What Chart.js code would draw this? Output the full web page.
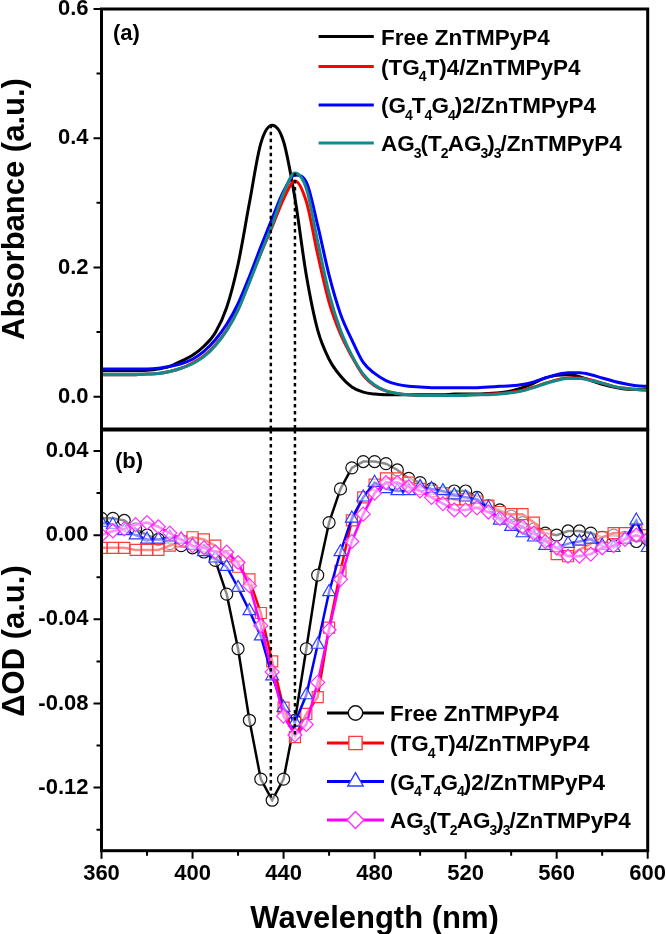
<!DOCTYPE html>
<html>
<head>
<meta charset="utf-8">
<script src="https://cdn.jsdelivr.net/npm/chart.js@4.4.1/dist/chart.umd.min.js"></script>
<style>
  html, body { margin: 0; padding: 0; background: #fff; }
  #wrap { position: relative; width: 666px; height: 934px; }
  canvas { position: absolute; left: 0; }
  #topChart { top: 0; }
  #bottomChart { top: 420px; }
</style>
</head>
<body>
<div id="wrap">
  <canvas id="topChart" width="666" height="440"></canvas>
  <canvas id="bottomChart" width="666" height="514"></canvas>
</div>
<script>
// wavelength grid (nm)
var wavelengths = [360,365,370,375,380,385,390,395,400,405,410,415,420,425,430,435,440,445,450,455,460,465,470,475,480,485,490,495,500,505,510,515,520,525,530,535,540,545,550,555,560,565,570,575,580,585,590,595,600];

var seriesNames = ["Free ZnTMPyP4", "(TG_4T)4/ZnTMPyP4", "(G_4T_4G_4)2/ZnTMPyP4", "AG_3(T_2AG_3)_3/ZnTMPyP4"];

// (a) absorbance
var absFree   = [0.040,0.040,0.040,0.040,0.041,0.043,0.047,0.055,0.064,0.078,0.099,0.138,0.205,0.300,0.392,0.420,0.395,0.307,0.188,0.103,0.058,0.032,0.015,0.007,0.004,0.003,0.003,0.003,0.003,0.003,0.003,0.004,0.004,0.004,0.005,0.006,0.009,0.014,0.021,0.029,0.033,0.034,0.031,0.025,0.019,0.015,0.012,0.011,0.011];
var absTG4T   = [0.034,0.034,0.034,0.034,0.035,0.036,0.039,0.044,0.052,0.063,0.080,0.103,0.135,0.178,0.222,0.263,0.306,0.334,0.302,0.220,0.146,0.097,0.062,0.033,0.017,0.009,0.005,0.003,0.002,0.002,0.002,0.002,0.003,0.003,0.004,0.005,0.007,0.010,0.015,0.021,0.026,0.029,0.029,0.026,0.021,0.016,0.013,0.011,0.010];
var absG4T4G4 = [0.043,0.043,0.043,0.043,0.043,0.044,0.047,0.051,0.058,0.070,0.088,0.112,0.144,0.186,0.232,0.276,0.318,0.343,0.332,0.265,0.188,0.128,0.088,0.053,0.036,0.025,0.019,0.016,0.015,0.014,0.014,0.014,0.014,0.014,0.015,0.016,0.017,0.019,0.023,0.029,0.034,0.037,0.037,0.034,0.029,0.024,0.020,0.017,0.016];
var absAG3    = [0.034,0.034,0.034,0.034,0.035,0.036,0.039,0.044,0.051,0.062,0.079,0.102,0.134,0.177,0.222,0.266,0.315,0.346,0.322,0.240,0.160,0.103,0.064,0.035,0.018,0.009,0.005,0.003,0.002,0.002,0.002,0.002,0.002,0.003,0.003,0.004,0.006,0.009,0.014,0.020,0.025,0.028,0.028,0.025,0.021,0.016,0.013,0.011,0.010];

// (b) difference spectra
var dFree   = [0.008,0.008,0.007,0.003,0.000,-0.002,-0.004,-0.005,-0.006,-0.008,-0.012,-0.028,-0.054,-0.088,-0.116,-0.126,-0.116,-0.088,-0.054,-0.019,0.006,0.022,0.032,0.035,0.035,0.034,0.031,0.027,0.025,0.022,0.020,0.021,0.021,0.018,0.014,0.012,0.009,0.006,0.003,0.001,0.000,0.002,0.002,0.001,-0.001,0.000,-0.001,-0.003,-0.002];
var dTG4T   = [-0.006,-0.006,-0.006,-0.007,-0.007,-0.007,-0.005,-0.003,-0.001,-0.002,-0.005,-0.010,-0.015,-0.021,-0.037,-0.060,-0.082,-0.096,-0.085,-0.077,-0.044,-0.017,0.007,0.018,0.024,0.027,0.027,0.025,0.022,0.021,0.020,0.017,0.017,0.016,0.014,0.011,0.010,0.010,0.006,0.000,-0.009,-0.010,-0.007,-0.004,-0.001,0.001,0.001,0.002,0.000];
var dG4T4G4 = [0.006,0.005,0.002,0.000,-0.002,-0.002,-0.001,-0.002,-0.005,-0.008,-0.011,-0.015,-0.025,-0.036,-0.048,-0.067,-0.082,-0.089,-0.076,-0.052,-0.027,-0.008,0.008,0.018,0.025,0.022,0.021,0.021,0.023,0.022,0.021,0.019,0.018,0.017,0.013,0.007,0.004,0.001,-0.001,-0.005,-0.006,-0.004,-0.003,-0.002,-0.005,-0.006,-0.002,0.007,-0.006];
var dAG3    = [0.000,0.002,0.003,0.005,0.006,0.004,0.001,-0.002,-0.005,-0.006,-0.008,-0.008,-0.013,-0.024,-0.043,-0.065,-0.086,-0.095,-0.090,-0.070,-0.045,-0.021,-0.003,0.010,0.020,0.025,0.025,0.023,0.021,0.018,0.015,0.012,0.012,0.013,0.011,0.008,0.006,0.004,0.001,-0.003,-0.006,-0.010,-0.010,-0.009,-0.006,-0.005,-0.002,0.000,-0.002];

// dotted guide lines at the two Soret maxima
var guideX = [434.4, 445.0];
var guideTopY = [0.421, 0.346];
var guideBottomY = [-0.1256, -0.095];

// axis ticks
var xMajor = [360, 400, 440, 480, 520, 560, 600];
var xMinor = [380, 420, 460, 500, 540, 580];
var absMajor = [0.0, 0.2, 0.4, 0.6];
var absMinor = [0.1, 0.3, 0.5];
var dodMajor = [0.04, 0.00, -0.04, -0.08, -0.12];
var dodMinor = [0.02, -0.02, -0.06, -0.10, -0.14];

var FONT = "'Liberation Sans', Arial, Helvetica, sans-serif";
var lineColors = ["#000000", "#ff0000", "#0000ff", "#138a8a"];
var bColors = ["#000000", "#ff0000", "#0000ff", "#ff00ff"];
var mColors = ["#111111", "#ff3b3b", "#2a3cff", "#ff30ff"];
var mStyles = ["circle", "rect", "triangle", "rectRot"];
var mRadius = [6, 7.8, 7.4, 7];

Chart.defaults.font.family = FONT;
Chart.defaults.font.weight = "bold";
Chart.defaults.color = "#000";

function xy(ys) {
    return wavelengths.map(function (w, i) { return { x: w, y: ys[i] }; });
}

// text with "_x" subscripts
function drawRich(ctx, text, x, y, size) {
    var base = y + size * 0.36;
    var sub = Math.round(size * 0.6);
    ctx.textAlign = "left";
    ctx.textBaseline = "alphabetic";
    var i = 0;
    while (i < text.length) {
        if (text[i] === "_") {
            ctx.font = "bold " + sub + "px " + FONT;
            ctx.fillText(text[i + 1], x - 1, base + size * 0.3);
            x += ctx.measureText(text[i + 1]).width * 0.75;
            i += 2;
        } else {
            var j = i;
            while (j < text.length && text[j] !== "_") j++;
            var s = text.slice(i, j);
            ctx.font = "bold " + size + "px " + FONT;
            ctx.fillText(s, x, base);
            x += ctx.measureText(s).width;
            i = j;
        }
    }
}

function fixY(s) { s.width = 101.5; s.paddingTop = 0; s.paddingBottom = 0; }
function fixX(s) { s.height = 83.3; s.paddingLeft = 0; s.paddingRight = 0; }
function setTicks(list) {
    return function (s) { s.ticks = list.map(function (v) { return { value: v }; }); };
}

var decor = {
    id: "decor",
    afterDatasetsDraw: function (chart, args, o) {
        var ctx = chart.ctx, a = chart.chartArea;
        var ys = chart.scales.y, xs = chart.scales.x;
        ctx.save();
        ctx.strokeStyle = "#000";
        ctx.fillStyle = "#000";
        ctx.lineWidth = 2;
        ctx.beginPath();
        o.yMajor.forEach(function (v) { var p = ys.getPixelForValue(v); ctx.moveTo(a.left - 8, p); ctx.lineTo(a.left, p); });
        o.yMinor.forEach(function (v) { var p = ys.getPixelForValue(v); ctx.moveTo(a.left - 5, p); ctx.lineTo(a.left, p); });
        if (o.xTicks) {
            xMajor.forEach(function (v) { var p = xs.getPixelForValue(v); ctx.moveTo(p, a.bottom); ctx.lineTo(p, a.bottom + 8); });
            xMinor.forEach(function (v) { var p = xs.getPixelForValue(v); ctx.moveTo(p, a.bottom); ctx.lineTo(p, a.bottom + 5); });
        }
        ctx.stroke();
        ctx.lineWidth = 3;
        ctx.strokeRect(a.left, a.top, a.right - a.left, a.bottom - a.top);

        // panel tag
        ctx.font = "bold 22px " + FONT;
        ctx.textAlign = "left";
        ctx.textBaseline = "middle";
        ctx.fillText(o.tag, o.tagX, o.tagY);

        // legend
        o.rows.forEach(function (ry, k) {
            ctx.strokeStyle = o.marker ? bColors[k] : lineColors[k];
            ctx.lineWidth = 3;
            ctx.beginPath();
            ctx.moveTo(o.lx0, ry);
            ctx.lineTo(o.lx1, ry);
            ctx.stroke();
            if (o.marker) {
                ctx.fillStyle = "#fff";
                ctx.strokeStyle = mColors[k];
                ctx.lineWidth = 1.4;
                Chart.helpers.drawPoint(ctx, { pointStyle: mStyles[k], radius: mRadius[k] * 1.2, rotation: 0, borderWidth: 1.4 }, (o.lx0 + o.lx1) / 2, ry);
            }
            ctx.fillStyle = "#000";
            drawRich(ctx, seriesNames[k], o.tx, ry, 22.5);
        });

        // axis titles
        ctx.font = "bold 31px " + FONT;
        ctx.textAlign = "center";
        ctx.textBaseline = "middle";
        ctx.save();
        ctx.translate(o.yTitleX, o.yTitleY);
        ctx.rotate(-Math.PI / 2);
        ctx.fillText(o.yTitle, 0, 0);
        ctx.restore();
        if (o.xTitle) {
            ctx.fillText(o.xTitle, (a.left + a.right) / 2, o.xTitleY);
        }
        ctx.restore();
    }
};

function guide(x, y0, y1) {
    return {
        data: [{ x: x, y: y0 }, { x: x, y: y1 }],
        borderColor: "#000", borderWidth: 2.5, borderDash: [3.5, 3.5],
        pointRadius: 0, order: 0
    };
}

// ---------- (a) ----------
var topSets = [absFree, absTG4T, absG4T4G4, absAG3].map(function (s, k) {
    return {
        data: xy(s), borderColor: lineColors[k], borderWidth: 3,
        pointRadius: 0, cubicInterpolationMode: "monotone", order: 4 - k
    };
});
topSets.push(guide(guideX[0], guideTopY[0], -0.06));
topSets.push(guide(guideX[1], guideTopY[1], -0.06));

new Chart(document.getElementById("topChart").getContext("2d"), {
    type: "line",
    data: { datasets: topSets },
    options: {
        responsive: false, animation: false, devicePixelRatio: 1,
        layout: { padding: { top: 9, right: 18.3, bottom: 11, left: 0 } },
        plugins: {
            legend: { display: false }, tooltip: { enabled: false },
            decor: {
                yMajor: absMajor, yMinor: absMinor, xTicks: false,
                tag: "(a)", tagX: 113, tagY: 34,
                rows: [36.5, 66.5, 105, 143], lx0: 318.6, lx1: 373.8, tx: 381, marker: false,
                yTitle: "Absorbance (a.u.)", yTitleX: 15, yTitleY: 209
            }
        },
        scales: {
            x: { type: "linear", min: 360, max: 600, display: false },
            y: {
                min: -0.05, max: 0.6,
                afterBuildTicks: setTicks(absMajor),
                afterFit: fixY,
                grid: { display: false, drawTicks: false }, border: { display: false },
                ticks: {
                    padding: 13,
                    font: { size: 22, weight: "bold" },
                    callback: function (v) { return Number(v).toFixed(1); }
                }
            }
        }
    },
    plugins: [decor]
});

// ---------- (b) ----------
var botSets = [dFree, dTG4T, dG4T4G4, dAG3].map(function (s, k) {
    return {
        data: xy(s), borderColor: bColors[k], borderWidth: 2.5, tension: 0,
        pointStyle: mStyles[k], pointRadius: mRadius[k],
        pointBorderColor: mColors[k], pointBackgroundColor: "rgba(255,255,255,0.55)",
        pointBorderWidth: 1.2, order: 4 - k
    };
});
botSets.push(guide(guideX[0], 0.06, guideBottomY[0]));
botSets.push(guide(guideX[1], 0.06, guideBottomY[1]));

new Chart(document.getElementById("bottomChart").getContext("2d"), {
    type: "line",
    data: { datasets: botSets },
    options: {
        responsive: false, animation: false, devicePixelRatio: 1,
        layout: { padding: { top: 10, right: 18.3, bottom: 0, left: 0 } },
        plugins: {
            legend: { display: false }, tooltip: { enabled: false },
            decor: {
                yMajor: dodMajor, yMinor: dodMinor, xTicks: true,
                tag: "(b)", tagX: 115, tagY: 42,
                rows: [293, 323, 361.5, 400], lx0: 327, lx1: 384, tx: 390, marker: true,
                yTitle: "\u0394OD (a.u.)", yTitleX: 15, yTitleY: 221,
                xTitle: "Wavelength (nm)", xTitleY: 499
            }
        },
        scales: {
            x: {
                type: "linear", min: 360, max: 600,
                afterBuildTicks: setTicks(xMajor),
                afterFit: fixX,
                grid: { display: false, drawTicks: false }, border: { display: false },
                ticks: { padding: 10, maxRotation: 0, autoSkip: false, font: { size: 22, weight: "bold" } }
            },
            y: {
                min: -0.15, max: 0.05,
                afterBuildTicks: setTicks(dodMajor),
                afterFit: fixY,
                grid: { display: false, drawTicks: false }, border: { display: false },
                ticks: {
                    padding: 13,
                    font: { size: 22, weight: "bold" },
                    callback: function (v) { return Number(v).toFixed(2); }
                }
            }
        }
    },
    plugins: [decor]
});
</script>
</body>
</html>
